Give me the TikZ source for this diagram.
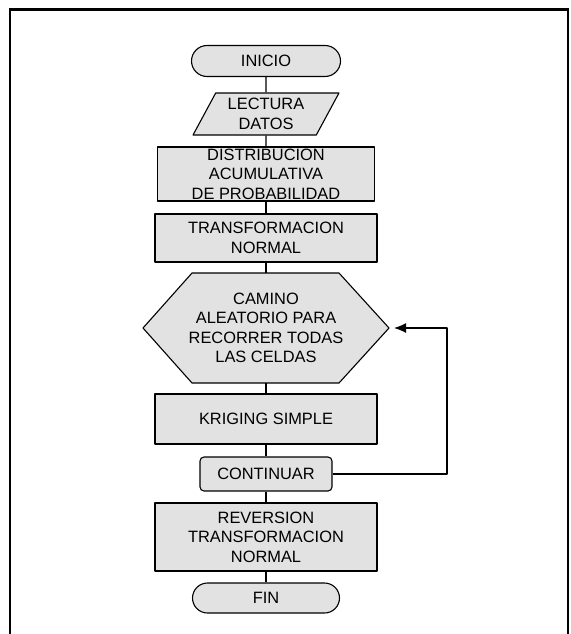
\documentclass[tikz,border=0pt]{standalone}
\usepackage{fontspec}
\setmainfont{Liberation Sans}
\usetikzlibrary{arrows.meta,shapes.geometric,shapes.misc}
\definecolor{stipple}{HTML}{E2E2E2}

\begin{document}
\begin{tikzpicture}[x=1pt,y=-1pt, line join=round,
    font=\fontsize{16.4}{19.5}\selectfont,
    box/.style={draw, line width=1.1pt, fill=stipple, align=center, inner sep=0pt},
    link/.style={line width=1.3pt}]
  \useasboundingbox (0,0) rectangle (570,634);
  % open frame round the chart
  \draw[line width=1.8pt] (10,634) -- (10,10);
  \draw[line width=1.8pt] (568,10) -- (568,634);
  \draw[line width=3pt] (9,10) -- (569,10);
  % start and data input
  \node[box, rounded rectangle, minimum width=149pt, minimum height=31pt] (inicio) at (266,61) {INICIO};
  \node[box, trapezium, trapezium left angle=61, trapezium right angle=119, trapezium stretches=true,
        minimum width=146pt, minimum height=42pt] (lectura) at (266,114) {LECTURA\\DATOS};
  \node[box, minimum width=217pt, minimum height=54pt] (distrib) at (266,174) {DISTRIBUCION\\ACUMULATIVA\\DE PROBABILIDAD};
  \node[box, minimum width=222pt, minimum height=48pt] (transf) at (266,238) {TRANSFORMACION\\NORMAL};
  % hexagon for the random path
  \filldraw[line width=1.1pt, fill=stipple] (143,328) -- (192,273) -- (339,273) -- (389,328)
      -- (339,383) -- (192,383) -- cycle;
  \coordinate (camino-n) at (266,273);
  \coordinate (camino-s) at (266,383);
  \coordinate (camino-e) at (389,328);
  \node[align=center, inner sep=0pt] (camino) at (266,328) {CAMINO\\ALEATORIO PARA\\RECORRER TODAS\\LAS CELDAS};
  \node[box, minimum width=222pt, minimum height=50pt] (kriging) at (266,419) {KRIGING SIMPLE};
  \node[box, rounded corners=4pt, minimum width=132pt, minimum height=34pt] (contin) at (266,474) {CONTINUAR};
  \node[box, minimum width=222pt, minimum height=68pt] (revers) at (266,537) {REVERSION\\TRANSFORMACION\\NORMAL};
  \node[box, rounded rectangle, minimum width=147pt, minimum height=30pt] (fin) at (266,598) {FIN};
  % connectors
  \foreach \a/\b in {inicio/lectura, lectura/distrib, distrib/transf, kriging/contin, contin/revers, revers/fin}
    \draw[link] (\a) -- (\b);
  \draw[link] (transf) -- (camino-n);
  \draw[link] (camino-s) -- (kriging);
  % loop back to the hexagon
  \coordinate (vuelta) at (447,328);
  \draw[link, -{Latex[length=12pt,width=10pt]}] (contin.east) -| (vuelta) -- ([xshift=5pt]camino-e);
\end{tikzpicture}
\end{document}
